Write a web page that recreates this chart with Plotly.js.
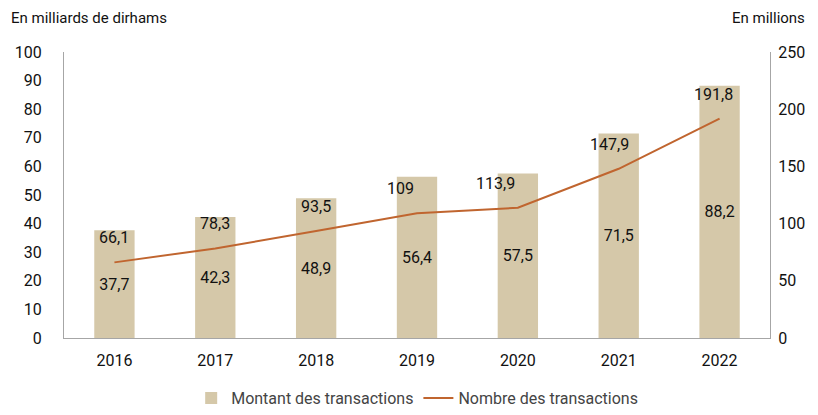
<!DOCTYPE html>
<html>
<head>
<meta charset="utf-8">
<script src="https://cdn.plot.ly/plotly-3.0.1.min.js"></script>
<style>html,body{margin:0;padding:0;background:#fff;}#chart{width:818px;height:415px;}</style>
</head>
<body>
<div id="chart"></div>
<script>
const years = ['2016','2017','2018','2019','2020','2021','2022'];
const montant = [37.7, 42.3, 48.9, 56.4, 57.5, 71.5, 88.2];
const nombre = [66.1, 78.3, 93.5, 109, 113.9, 147.9, 191.8];
const leftTicks = [0,10,20,30,40,50,60,70,80,90,100];
const rightTicks = [0,50,100,150,200,250];
const lineLabelXShift = [0, 0, 0, -17, -22, -9, -6];

const fmt = v => String(v).replace('.', ',');
const FONT = 'Roboto, "DejaVu Sans", sans-serif';

const barTrace = {
  type: 'bar', x: years, y: montant, name: 'Montant des transactions',
  marker: {color: '#D5C8A9'},
  text: montant.map(fmt), textposition: 'inside', insidetextanchor: 'middle',
  textfont: {family: FONT, size: 16, color: '#111'},
  hoverinfo: 'skip'
};
const lineTrace = {
  type: 'scatter', mode: 'lines', x: years, y: nombre, yaxis: 'y2',
  name: 'Nombre des transactions',
  line: {color: '#C0652F', width: 2},
  hoverinfo: 'skip'
};

const annotations = nombre.map((v, i) => ({
  x: years[i], y: v, xref: 'x', yref: 'y2', text: fmt(v), showarrow: false,
  yanchor: 'bottom', yshift: 13, xshift: lineLabelXShift[i],
  font: {family: FONT, size: 16, color: '#111'}
}));
annotations.push({
  x: 0, xref: 'paper', xanchor: 'left', xshift: -55, y: 1, yref: 'paper', yanchor: 'bottom', yshift: 23,
  text: 'En milliards de dirhams', showarrow: false, font: {family: FONT, size: 15, color: '#111'}
});
annotations.push({
  x: 1, xref: 'paper', xanchor: 'right', xshift: 37, y: 1, yref: 'paper', yanchor: 'bottom', yshift: 23,
  text: 'En millions', showarrow: false, font: {family: FONT, size: 15, color: '#111'}
});

const layout = {
  width: 818, height: 415,
  margin: {l: 64, r: 48, t: 52, b: 77},
  paper_bgcolor: '#fff', plot_bgcolor: '#fff',
  font: {family: FONT, size: 15, color: '#111'},
  bargap: 0.6,
  showlegend: true,
  legend: {orientation: 'h', x: 0.51, xref: 'container', xanchor: 'center',
           y: -0.02, yref: 'container', yanchor: 'bottom',
           font: {family: FONT, size: 16, color: '#444'}, traceorder: 'normal'},
  xaxis: {showline: true, linecolor: '#A6A6A6', linewidth: 1, showgrid: false,
          ticks: '', ticklabelstandoff: 8, tickfont: {family: FONT, size: 16, color: '#111'}},
  yaxis: {range: [0, 100], tickvals: leftTicks, showline: true, linecolor: '#A6A6A6', linewidth: 1,
          showgrid: false, zeroline: false, ticks: '', ticklabelstandoff: 18,
          tickfont: {family: FONT, size: 16, color: '#111'}},
  yaxis2: {range: [0, 250], tickvals: rightTicks, overlaying: 'y', side: 'right', showline: true,
           linecolor: '#A6A6A6', linewidth: 1, showgrid: false, zeroline: false, ticks: '',
           ticklabelstandoff: 4, tickfont: {family: FONT, size: 16, color: '#111'}},
  annotations: annotations
};

Plotly.newPlot('chart', [barTrace, lineTrace], layout, {displayModeBar: false, staticPlot: true});
</script>
</body>
</html>
